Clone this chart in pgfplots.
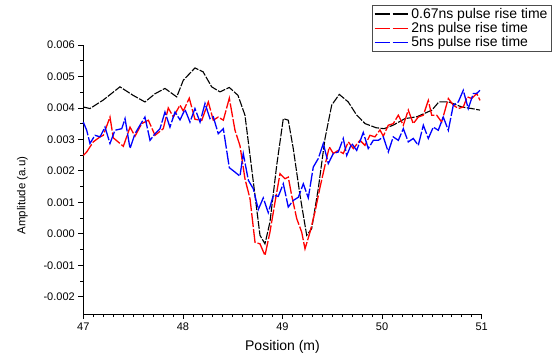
\documentclass[border=0pt]{standalone}
\usepackage{pgfplots}
\pgfplotsset{compat=1.18}
\usepackage{fontspec}
\setmainfont{Liberation Sans}
\begin{document}
\begin{tikzpicture}
\begin{axis}[
  scale only axis,
  width=398.4pt, height=269pt,
  xmin=47, xmax=51, ymin=-0.00255, ymax=0.006,
  axis lines*=left,
  axis line style={-, line width=0.8pt},
  tick align=outside,
  major tick length=5pt, minor tick length=3pt,
  every tick/.style={black, line width=0.7pt},
  xtick={47,48,49,50,51},
  minor x tick num=9,
  ytick={-0.002,-0.001,0,0.001,0.002,0.003,0.004,0.005,0.006},
  minor y tick num=1,
  scaled y ticks=false,
  yticklabel style={/pgf/number format/.cd, fixed, fixed zerofill, precision=3},
  /pgf/number format/assume math mode=true,
  ticklabel style={font=\fontsize{11}{13}\selectfont},
  xlabel={Position (m)},
  ylabel={Amplitude (a.u)},
  xlabel style={font=\fontsize{14}{16}\selectfont, at={(rel axis cs:0.5,0)}, anchor=center, yshift=-32.7pt},
  ylabel style={font=\fontsize{11.5}{14}\selectfont, at={(rel axis cs:-0.153,0.44)}, anchor=center},
  legend cell align=left,
  legend style={at={(rel axis cs:1.176,1.149)}, anchor=north east, draw=black!70, line width=0.6pt,
    font=\fontsize{14}{15}\selectfont, inner xsep=2pt, inner ysep=1pt, row sep=-1.5pt},
  legend image code/.code={\draw[#1, dash pattern=on 15pt off 3pt] (0pt,0pt) -- (34pt,0pt);},
  clip=false,
]
\addplot[black, line width=1.1pt, dash pattern=on 8pt off 1.5pt] coordinates {
(47.000,0.00403) (47.067,0.00398) (47.20,0.00425) (47.368,0.00467) (47.50,0.00440) (47.619,0.00419)
(47.720,0.00445) (47.820,0.00462) (47.938,0.00435) (48.004,0.00488) (48.121,0.00527) (48.202,0.00515)
(48.289,0.00467) (48.372,0.00451) (48.466,0.00465) (48.553,0.00440) (48.623,0.00377) (48.674,0.00249)
(48.724,0.00122) (48.774,-0.00005) (48.824,-0.00032) (48.874,0.00037) (48.942,0.00218) (49.008,0.00366)
(49.058,0.00361) (49.108,0.00271) (49.176,0.00122) (49.243,-0.00005) (49.293,0.00016) (49.359,0.00143)
(49.427,0.00303) (49.494,0.00409) (49.570,0.00443) (49.660,0.00419) (49.745,0.00377) (49.830,0.00350)
(49.940,0.00337) (50.020,0.00334) (50.110,0.00345) (50.230,0.00366) (50.350,0.00372) (50.500,0.00393)
(50.570,0.00419) (50.670,0.00419) (50.800,0.00403) (50.900,0.00398) (50.983,0.00393)
};
\addlegendentry{0.67ns pulse rise time}
\addplot[red, line width=1.3pt, dash pattern=on 14pt off 2pt] coordinates {
(47.000,0.00249) (47.034,0.00260) (47.100,0.00292) (47.168,0.00308) (47.201,0.00313) (47.268,0.00371)
(47.301,0.00305) (47.402,0.00278) (47.469,0.00339) (47.519,0.00310) (47.586,0.00350) (47.653,0.00361)
(47.720,0.00313) (47.803,0.00334) (47.853,0.00400) (47.904,0.00371) (47.971,0.00409) (48.004,0.00390)
(48.064,0.00431) (48.121,0.00364) (48.189,0.00360) (48.255,0.00419) (48.305,0.00361) (48.355,0.00371)
(48.406,0.00361) (48.466,0.00431) (48.523,0.00329) (48.573,0.00280) (48.623,0.00175) (48.674,0.00111)
(48.724,-0.00027) (48.774,-0.00032) (48.824,-0.00069) (48.874,0.00005) (48.925,0.00101) (48.975,0.00191)
(49.025,0.00175) (49.058,0.00180) (49.092,0.00122) (49.143,0.00048) (49.193,0.00005) (49.226,-0.00048)
(49.276,0.00005) (49.326,0.00069) (49.377,0.00148) (49.427,0.00218) (49.470,0.00276) (49.510,0.00255)
(49.560,0.00265) (49.610,0.00255) (49.661,0.00292) (49.711,0.00271) (49.778,0.00297) (49.828,0.00281)
(49.878,0.00313) (49.928,0.00308) (49.979,0.00330) (50.012,0.00310) (50.062,0.00345) (50.112,0.00350)
(50.163,0.00377) (50.213,0.00345) (50.263,0.00393) (50.313,0.00350) (50.363,0.00371) (50.414,0.00377)
(50.464,0.00424) (50.498,0.00377) (50.548,0.00377) (50.598,0.00355) (50.665,0.00430) (50.715,0.00409)
(50.765,0.00398) (50.815,0.00403) (50.855,0.00435) (50.900,0.00430) (50.950,0.00446) (50.983,0.00424)
};
\addlegendentry{2ns pulse rise time}
\addplot[blue, line width=1.3pt, dash pattern=on 14pt off 2pt] coordinates {
(47.000,0.00355) (47.034,0.00329) (47.067,0.00287) (47.117,0.00313) (47.168,0.00308) (47.218,0.00339)
(47.268,0.00287) (47.318,0.00329) (47.386,0.00334) (47.419,0.00366) (47.469,0.00271) (47.519,0.00318)
(47.569,0.00345) (47.619,0.00371) (47.670,0.00297) (47.720,0.00318) (47.770,0.00334) (47.820,0.00387)
(47.870,0.00339) (47.921,0.00387) (47.971,0.00362) (48.021,0.00395) (48.071,0.00355) (48.121,0.00398)
(48.172,0.00355) (48.222,0.00414) (48.272,0.00366) (48.305,0.00372) (48.355,0.00318) (48.406,0.00334)
(48.466,0.00210) (48.523,0.00196) (48.573,0.00183) (48.606,0.00255) (48.657,0.00170) (48.707,0.00143)
(48.757,0.00077) (48.807,0.00114) (48.857,0.00067) (48.908,0.00122) (48.958,0.00119) (49.008,0.00159)
(49.058,0.00085) (49.108,0.00106) (49.159,0.00116) (49.209,0.00159) (49.259,0.00114) (49.309,0.00212)
(49.359,0.00239) (49.410,0.00287) (49.460,0.00223) (49.510,0.00255) (49.560,0.00260) (49.610,0.00303)
(49.645,0.00249) (49.695,0.00287) (49.745,0.00265) (49.811,0.00322) (49.861,0.00271) (49.912,0.00297)
(49.962,0.00297) (50.012,0.00308) (50.062,0.00260) (50.112,0.00308) (50.163,0.00297) (50.213,0.00334)
(50.263,0.00292) (50.313,0.00303) (50.363,0.00281) (50.414,0.00345) (50.464,0.00303) (50.514,0.00339)
(50.564,0.00329) (50.614,0.00371) (50.665,0.00329) (50.715,0.00409) (50.765,0.00419) (50.815,0.00456)
(50.865,0.00398) (50.916,0.00446) (50.950,0.00446) (50.983,0.00456)
};
\addlegendentry{5ns pulse rise time}
\end{axis}
\pgfresetboundingbox
\path[use as bounding box] (-83.3pt,-42pt) rectangle (470.7pt,314pt);
\end{tikzpicture}
\end{document}
